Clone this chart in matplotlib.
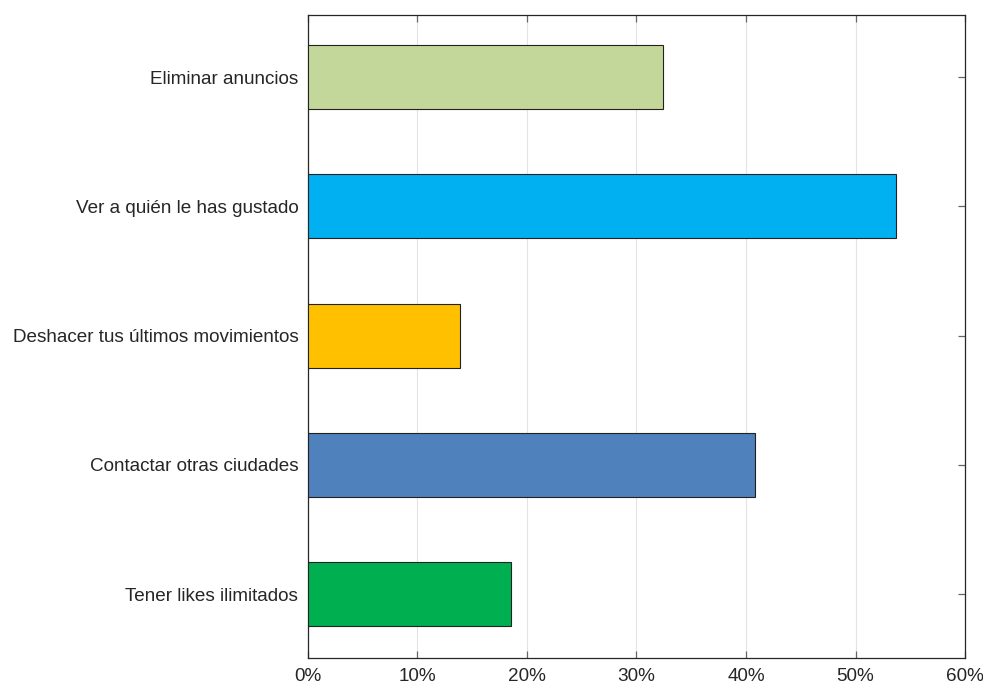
import matplotlib
matplotlib.use("Agg")
import matplotlib.pyplot as plt
from matplotlib.ticker import PercentFormatter

# datos (de abajo hacia arriba)
categorias = ["Tener likes ilimitados", "Contactar otras ciudades",
              "Deshacer tus últimos movimientos", "Ver a quién le has gustado",
              "Eliminar anuncios"]
valores = [18.5, 40.8, 13.9, 53.7, 32.4]
colores = ["#00B050", "#4F81BD", "#FFC000", "#00B0F0", "#C4D79B"]
xticks = [0, 10, 20, 30, 40, 50, 60]

plt.rcParams['font.family'] = ['Liberation Sans', 'DejaVu Sans']

fig = plt.figure(figsize=(9.83, 6.85), dpi=100)
ax = fig.add_axes([0.3133, 0.0394, 0.6684, 0.9386])

pos = list(range(1, len(categorias) + 1))
ax.barh(pos, valores, height=0.495, color=colores, edgecolor="#222222", linewidth=0.8, zorder=3)

ax.set_xlim(0, 60)
ax.set_ylim(0.505, 5.48)
ax.set_xticks(xticks)
ax.xaxis.set_major_formatter(PercentFormatter(decimals=0))
ax.set_yticks(pos)
ax.set_yticklabels(categorias)

ax.grid(axis="x", color="#e3e3e3", linewidth=0.8, zorder=0)
ax.tick_params(direction="in", top=True, right=True, length=5, width=0.9,
               color="#666666", labelsize=13.6, labelcolor="#262626")
ax.tick_params(axis="x", pad=7.5)
ax.tick_params(axis="y", pad=7)
for s in ax.spines.values():
    s.set_color("#262626")
    s.set_linewidth(0.9)

fig.savefig("out.png", dpi=100)
